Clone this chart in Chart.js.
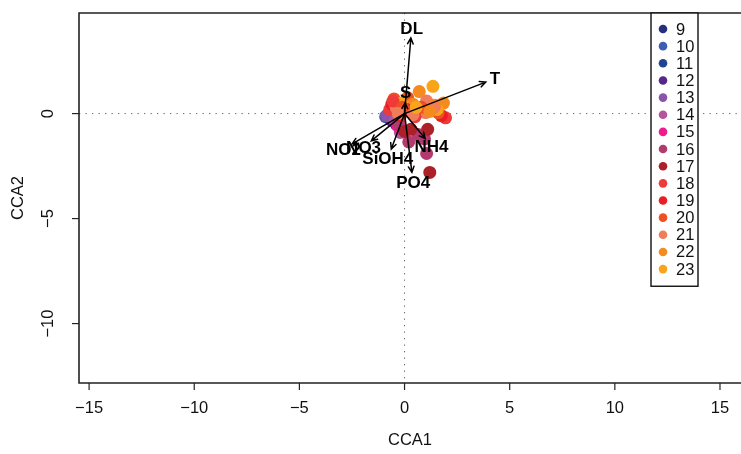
<!DOCTYPE html>
<html>
<head>
<meta charset="utf-8">
<script src="https://cdn.jsdelivr.net/npm/chart.js@4"></script>
<style>
  html, body { margin: 0; padding: 0; background: #fff; overflow: hidden; }
  canvas { display: block; }
</style>
</head>
<body>
<canvas id="cca" width="741" height="454"></canvas>
<script>
// Sampling hours (legend levels) and their colours
const hourLevels = [9, 10, 11, 12, 13, 14, 15, 16, 17, 18, 19, 20, 21, 22, 23];
const hourColors = ['#27307a', '#3d5fb0', '#1f4590', '#56288a', '#8a55a8', '#b5539f', '#ee1a8f',
                    '#b23a6e', '#ab2127', '#ef3a3a', '#ea1c24', '#ef4f23', '#f07c5a', '#f58a1f', '#f9a51b'];

// Site scores: hour of each sample and its CCA1 / CCA2 coordinates
const sampleHour = [9, 10, 11, 12, 12, 13, 13, 14, 14, 15,
                    16, 16, 16, 16, 16, 17, 17, 17, 17,
                    23, 22, 21, 20, 19, 18,
                    18, 19, 20, 21, 22, 23,
                    18, 19, 20, 21, 22, 23,
                    18, 19, 20, 21, 22, 23,
                    18, 19, 20, 21, 22, 21];
const sampleCCA1 = [-0.80, -0.90, -0.70, -0.65, -0.40, -0.85, -0.50, -0.45, -0.20, -0.30,
                    -0.25, 0.20, 0.95, 1.05, 0.65, 1.10, 1.20, 0.30, 0.00,
                    1.35, 0.70, 1.05, 0.15, 0.60, -0.30,
                    -0.70, -0.60, -0.50, -0.40, 0.40, -0.15,
                    1.95, 1.75, 1.60, 1.00, 1.85, 1.55,
                    0.50, 0.10, 0.80, 0.40, 1.45, 0.55,
                    -0.55, -0.20, -0.10, 1.40, 1.20, -0.30];
const sampleCCA2 = [-0.05, -0.15, -0.10, -0.30, -0.50, -0.10, -0.20, -0.35, -0.90, -0.60,
                    -0.50, -1.35, -1.20, -1.90, -1.00, -0.75, -2.80, -0.75, -0.85,
                    1.30, 1.05, 0.60, 0.75, 0.05, 0.40,
                    0.20, 0.45, 0.70, 0.30, 0.45, 0.50,
                    -0.20, -0.10, 0.05, 0.05, 0.50, 0.20,
                    -0.15, 0.20, 0.30, -0.05, 0.40, 0.30,
                    0.60, -0.10, 0.30, 0.30, 0.10, 0.00];

// Environmental vectors (biplot scores)
const envNames = ['DL', 'T', 'S', 'NO3', 'NO2', 'SiOH4', 'NH4', 'PO4'];
const envCCA1 = [0.30, 3.86, 0.03, -1.58, -2.49, -0.63, 0.98, 0.35];
const envCCA2 = [3.60, 1.50, 0.52, -1.30, -1.44, -1.69, -1.19, -2.80];

// Axis ticks
const xTicks = [-15, -10, -5, 0, 5, 10, 15];
const yTicks = [0, -5, -10];

const FONT = '"Liberation Sans", Arial, Helvetica, sans-serif';

const points = sampleCCA1.map((x, i) => ({ x: x, y: sampleCCA2[i] }));
const pointColors = sampleHour.map(h => hourColors[hourLevels.indexOf(h)]);

const ordinationDecor = {
  id: 'ordinationDecor',
  beforeDatasetsDraw(chart) {
    const { ctx, chartArea: a, scales: { x, y } } = chart;
    const x0 = x.getPixelForValue(0), y0 = y.getPixelForValue(0);
    ctx.save();
    ctx.strokeStyle = '#666';
    ctx.lineWidth = 1;
    ctx.setLineDash([1.3, 5.2]);
    ctx.beginPath();
    ctx.moveTo(a.left, y0); ctx.lineTo(chart.width, y0);
    ctx.moveTo(x0, a.top); ctx.lineTo(x0, a.bottom);
    ctx.stroke();
    ctx.restore();
  },
  afterDatasetsDraw(chart) {
    const { ctx, scales: { x, y } } = chart;
    const ox = x.getPixelForValue(0), oy = y.getPixelForValue(0);
    ctx.save();
    ctx.strokeStyle = '#000';
    ctx.fillStyle = '#000';
    ctx.lineWidth = 1.5;
    ctx.lineCap = 'round';
    envNames.forEach((name, i) => {
      const tx = x.getPixelForValue(envCCA1[i]);
      const ty = y.getPixelForValue(envCCA2[i]);
      const ang = Math.atan2(ty - oy, tx - ox);
      const head = 6.5, spread = Math.PI / 7;
      ctx.beginPath();
      ctx.moveTo(ox, oy); ctx.lineTo(tx, ty);
      ctx.moveTo(tx - head * Math.cos(ang - spread), ty - head * Math.sin(ang - spread));
      ctx.lineTo(tx, ty);
      ctx.lineTo(tx - head * Math.cos(ang + spread), ty - head * Math.sin(ang + spread));
      ctx.stroke();
    });
    ctx.font = 'bold 17px ' + FONT;
    ctx.textAlign = 'center';
    ctx.textBaseline = 'middle';
    envNames.forEach((name, i) => {
      const tx = x.getPixelForValue(envCCA1[i]);
      const ty = y.getPixelForValue(envCCA2[i]);
      const ang = Math.atan2(ty - oy, tx - ox);
      const off = 10;
      ctx.fillText(name, tx + off * Math.cos(ang), ty + off * Math.sin(ang) + 1);
    });
    ctx.restore();
  },
  afterDraw(chart) {
    const { ctx, chartArea: a, scales: { x, y } } = chart;
    const right = chart.width + 2;
    ctx.save();
    // frame
    ctx.strokeStyle = '#222';
    ctx.lineWidth = 1.6;
    ctx.beginPath();
    ctx.moveTo(right, a.top);
    ctx.lineTo(a.left, a.top);
    ctx.lineTo(a.left, a.bottom);
    ctx.lineTo(right, a.bottom);
    ctx.stroke();

    // ticks and labels
    ctx.fillStyle = '#111';
    ctx.font = '16.5px ' + FONT;
    ctx.lineWidth = 1.2;
    ctx.textAlign = 'center';
    ctx.textBaseline = 'middle';
    xTicks.forEach(v => {
      const px = x.getPixelForValue(v);
      ctx.beginPath(); ctx.moveTo(px, a.bottom); ctx.lineTo(px, a.bottom + 7); ctx.stroke();
      ctx.fillText(String(v).replace('-', '\u2212'), px, a.bottom + 25);
    });
    yTicks.forEach(v => {
      const py = y.getPixelForValue(v);
      ctx.beginPath(); ctx.moveTo(a.left, py); ctx.lineTo(a.left - 7, py); ctx.stroke();
      ctx.save();
      ctx.translate(a.left - 31, py);
      ctx.rotate(-Math.PI / 2);
      ctx.fillText(String(v).replace('-', '\u2212'), 0, 0);
      ctx.restore();
    });

    // axis titles
    ctx.fillText('CCA1', (a.left + chart.width) / 2, a.bottom + 57);
    ctx.save();
    ctx.translate(a.left - 61, (a.top + a.bottom) / 2);
    ctx.rotate(-Math.PI / 2);
    ctx.fillText('CCA2', 0, 0);
    ctx.restore();

    // legend
    const lx = 651, ly = a.top, lw = 47, step = 17.15;
    const lh = hourLevels.length * step + 16;
    ctx.fillStyle = '#fff';
    ctx.fillRect(lx, ly, lw, lh);
    ctx.strokeStyle = '#111';
    ctx.lineWidth = 1.4;
    ctx.strokeRect(lx, ly, lw, lh);
    ctx.textAlign = 'left';
    hourLevels.forEach((h, i) => {
      const cy = ly + 16 + i * step;
      ctx.fillStyle = hourColors[i];
      ctx.beginPath(); ctx.arc(lx + 12, cy, 4.3, 0, Math.PI * 2); ctx.fill();
      ctx.fillStyle = '#111';
      ctx.fillText(String(h), lx + 25, cy + 1);
    });
    ctx.restore();
  }
};

new Chart(document.getElementById('cca'), {
  type: 'scatter',
  data: {
    datasets: [{
      data: points,
      backgroundColor: pointColors,
      borderWidth: 0,
      pointRadius: 6.5,
      pointHoverRadius: 6.5,
      clip: false
    }]
  },
  options: {
    responsive: false,
    animation: false,
    devicePixelRatio: 1,
    events: [],
    layout: { padding: { left: 79, top: 13, right: 0, bottom: 71 } },
    plugins: { legend: { display: false }, tooltip: { enabled: false } },
    scales: {
      x: { type: 'linear', display: false, min: -15.48, max: 15.69 },
      y: { type: 'linear', display: false, min: -12.83, max: 4.79 }
    }
  },
  plugins: [ordinationDecor]
});
</script>
</body>
</html>
